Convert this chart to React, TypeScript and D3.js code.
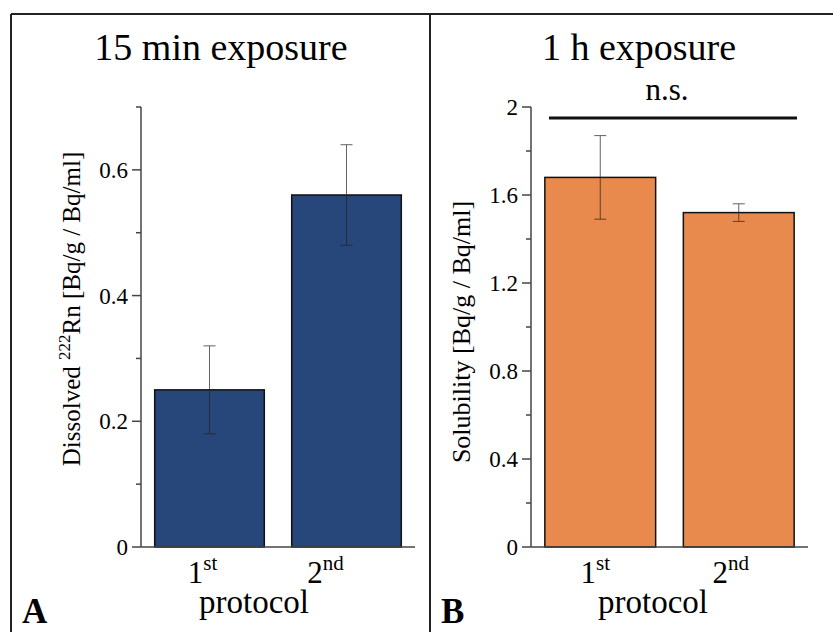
import React from 'react';
import * as d3 from 'd3';

// protocols on the x axis
const protocols = ['1', '2'];
const ordinals = ['st', 'nd'];

// panel A: 15 min exposure, dissolved 222Rn
const dissolved = [0.25, 0.56];
const dissolvedErr = [0.07, 0.08];
const dissolvedTicks = [0, 0.2, 0.4, 0.6];
const dissolvedMinor = [0.1, 0.3, 0.5, 0.7];

// panel B: 1 h exposure, solubility
const solubility = [1.68, 1.52];
const solubilityErr = [0.19, 0.04];
const solubilityTicks = [0, 0.4, 0.8, 1.2, 1.6, 2];
const solubilityMinor = [0.2, 0.6, 1.0, 1.4, 1.8];

const font = '"Liberation Serif", "Times New Roman", serif';
const axisColor = '#444';

type PanelProps = {
  x0: number;
  x1: number;
  yMax: number;
  values: number[];
  errs: number[];
  ticks: number[];
  minor: number[];
  color: string;
  title: string;
  titleX: number;
  protoX: number;
  labelDx: number[];
  yLabel: React.ReactNode;
  yLabelX: number;
  yLabelY: number;
  yLabelSize: number;
  letter: string;
  letterX: number;
  ns?: boolean;
};

const top = 107;
const bottom = 547;
const fmt = d3.format('~g');

function Panel(p: PanelProps) {
  const y = d3.scaleLinear().domain([0, p.yMax]).range([bottom, top]);
  const x = d3.scaleBand().domain(protocols).range([p.x0, p.x1]).paddingInner(0.2).paddingOuter(0.1);
  return (
    <g fontFamily={font}>
      <text x={p.titleX} y={60} fontSize={38} textAnchor="middle">{p.title}</text>
      {p.values.map((v, i) => {
        const cx = x(protocols[i])! + x.bandwidth() / 2;
        return (
          <g key={i}>
            <rect x={x(protocols[i])} y={y(v)} width={x.bandwidth()} height={bottom - y(v)}
              fill={p.color} stroke="#111" strokeWidth={1.5} />
            <g stroke="#222" strokeWidth={1} opacity={0.7}>
              <line x1={cx} x2={cx} y1={y(v - p.errs[i])} y2={y(v + p.errs[i])} />
              <line x1={cx - 6} x2={cx + 6} y1={y(v - p.errs[i])} y2={y(v - p.errs[i])} />
              <line x1={cx - 6} x2={cx + 6} y1={y(v + p.errs[i])} y2={y(v + p.errs[i])} />
            </g>
            <text x={cx + p.labelDx[i]} y={583} fontSize={31} textAnchor="middle">
              {protocols[i]}<tspan fontSize={21} dy={-13}>{ordinals[i]}</tspan>
            </text>
          </g>
        );
      })}
      <line x1={p.x0} x2={p.x0} y1={top} y2={bottom} stroke={axisColor} strokeWidth={1.5} />
      <line x1={p.x0} x2={p.x1} y1={bottom} y2={bottom} stroke={axisColor} strokeWidth={1.5} />
      {p.ticks.map(t => (
        <g key={t}>
          <line x1={p.x0 - 9} x2={p.x0} y1={y(t)} y2={y(t)} stroke={axisColor} strokeWidth={1.5} />
          <text x={p.x0 - 13} y={y(t) + 8} fontSize={23} textAnchor="end">{fmt(t)}</text>
        </g>
      ))}
      {p.minor.map(t => (
        <line key={t} x1={p.x0 - 5} x2={p.x0} y1={y(t)} y2={y(t)} stroke={axisColor} strokeWidth={1.5} />
      ))}
      <text transform={`translate(${p.yLabelX},${p.yLabelY}) rotate(-90)`}
        fontSize={p.yLabelSize} textAnchor="middle">{p.yLabel}</text>
      <text x={p.protoX} y={613} fontSize={33} textAnchor="middle">protocol</text>
      <text x={p.letterX} y={623} fontSize={35} fontWeight="bold">{p.letter}</text>
      {p.ns && (
        <g>
          <line x1={p.x0 + 18} x2={p.x1 - 11} y1={y(1.95)} y2={y(1.95)} stroke="#111" strokeWidth={3} />
          <text x={667} y={100} fontSize={31} textAnchor="middle">n.s.</text>
        </g>
      )}
    </g>
  );
}

export default function App() {
  return (
    <svg width={833} height={632} style={{ display: 'block', position: 'absolute', left: 0, top: 0 }}>
      <rect x={0} y={0} width={833} height={632} fill="#fff" />
      <g stroke="#222" strokeWidth={2} fill="none">
        <line x1={11} x2={833} y1={14} y2={14} />
        <line x1={11} x2={11} y1={14} y2={632} />
        <line x1={430} x2={430} y1={14} y2={632} />
      </g>
      <Panel x0={141} x1={415} yMax={0.7} values={dissolved} errs={dissolvedErr}
        ticks={dissolvedTicks} minor={dissolvedMinor} color="#27477a"
        title="15 min exposure" titleX={221} protoX={254} labelDx={[-7, -21]}
        letter="A" letterX={22}
        yLabelX={80} yLabelY={309} yLabelSize={25}
        yLabel={<>Dissolved <tspan fontSize={17} dy={-10}>222</tspan><tspan dy={10}>Rn [Bq/g / Bq/ml]</tspan></>} />
      <Panel x0={531} x1={808} yMax={2} values={solubility} errs={solubilityErr}
        ticks={solubilityTicks} minor={solubilityMinor} color="#e8894e"
        title="1 h exposure" titleX={639} protoX={653} labelDx={[-5, -8]}
        letter="B" letterX={441} ns
        yLabelX={470} yLabelY={332} yLabelSize={26}
        yLabel="Solubility [Bq/g / Bq/ml]" />
    </svg>
  );
}
